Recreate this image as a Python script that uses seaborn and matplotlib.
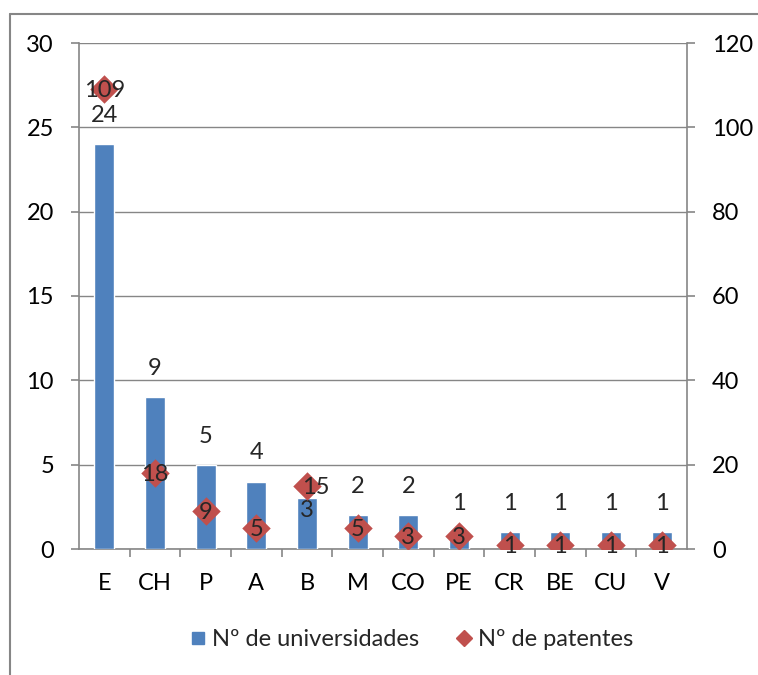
import matplotlib
matplotlib.use("Agg")
import matplotlib.pyplot as plt
from matplotlib.lines import Line2D
import pandas as pd
import seaborn as sns

countries = ["E", "CH", "P", "A", "B", "M", "CO", "PE", "CR", "BE", "CU", "V"]
universities = [24, 9, 5, 4, 3, 2, 2, 1, 1, 1, 1, 1]
patents = [109, 18, 9, 5, 15, 5, 3, 3, 1, 1, 1, 1]
label_uni = "Nº de universidades"
label_pat = "Nº de patentes"

BLUE = "#4F81BD"
RED = "#C0504D"
GRID = "#868686"
FS = 17

sns.set_theme(style="white")
plt.rcParams["font.family"] = ["Lato", "DejaVu Sans"]
plt.rcParams["font.size"] = FS

df = pd.DataFrame({"country": countries, "uni": universities, "pat": patents})

fig = plt.figure(figsize=(7.58, 6.75), dpi=100)
ax = fig.add_axes([79 / 758, 1 - 549 / 675, (687 - 79) / 758, (549 - 43) / 675])

sns.barplot(data=df, x="country", y="uni", color=BLUE, width=0.4,
            saturation=1, ax=ax, zorder=3)
ax.set_ylim(0, 30)
ax.set_yticks(range(0, 31, 5))
ax.set_xlim(-0.5, len(countries) - 0.5)
ax.set_xlabel("")
ax.set_ylabel("")
ax.yaxis.grid(True, color=GRID, lw=1)
ax.set_axisbelow(True)

ax2 = ax.twinx()
sns.scatterplot(data=df, x="country", y="pat", marker="D", s=210, color=RED,
                linewidth=0, ax=ax2, zorder=4)
ax2.set_ylim(0, 120)
ax2.set_yticks(range(0, 121, 20))
ax2.set_ylabel("")
ax2.set_xlim(-0.5, len(countries) - 0.5)

# spines and ticks
for a in (ax, ax2):
    for s in a.spines.values():
        s.set_color(GRID)
        s.set_linewidth(1.2)
    a.spines["top"].set_visible(False)
ax.spines["right"].set_visible(False)
ax2.spines["left"].set_visible(False)
ax2.spines["bottom"].set_visible(False)

ax.tick_params(axis="y", which="both", left=True, length=6, width=1.2,
               color=GRID, pad=12, labelsize=FS, labelcolor="black")
ax2.tick_params(axis="y", right=True, length=6, width=1.2, color=GRID,
                pad=12, labelsize=FS, labelcolor="black")
ax.tick_params(axis="x", which="major", length=0, pad=17, labelsize=FS,
               labelcolor="black")
ax.set_xticks([i + 0.5 for i in range(len(countries) - 1)], minor=True)
ax.tick_params(axis="x", which="minor", bottom=True, length=6, width=1.2,
               color=GRID)

# value labels
for i, v in enumerate(universities):
    if countries[i] == "B":
        ax.annotate(str(v), (i, v), xytext=(0, -9), textcoords="offset points",
                    ha="center", va="center", fontsize=FS, zorder=6)
    else:
        ax.annotate(str(v), (i, v), xytext=(0, 13), textcoords="offset points",
                    ha="center", va="bottom", fontsize=FS, zorder=6)
for i, v in enumerate(patents):
    dx = 6 if countries[i] == "B" else 0
    ax2.annotate(str(v), (i, v), xytext=(dx, -1), textcoords="offset points",
                 ha="center", va="center", fontsize=FS, zorder=6)

handles = [
    Line2D([], [], marker="s", color=BLUE, lw=0, markersize=8),
    Line2D([], [], marker="D", color=RED, lw=0, markersize=8),
]
fig.legend(handles, [label_uni, label_pat], loc="center",
           bbox_to_anchor=(412 / 758, 1 - 640 / 675), ncol=2, frameon=False,
           fontsize=FS, handlelength=0.6, handletextpad=0.3, columnspacing=1.6)

# outer chart border (left and top visible)
fig.add_artist(Line2D([10 / 758, 10 / 758], [0, 1 - 14 / 675],
                      color=GRID, lw=1.5, transform=fig.transFigure))
fig.add_artist(Line2D([10 / 758, 1], [1 - 14 / 675, 1 - 14 / 675],
                      color=GRID, lw=1.5, transform=fig.transFigure))

fig.savefig("out.png", dpi=100)
